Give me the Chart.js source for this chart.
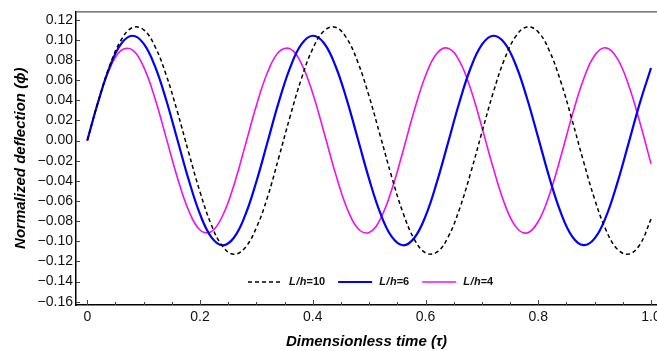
<!DOCTYPE html>
<html>
<head>
<meta charset="utf-8">
<title>Normalized deflection</title>
<script src="https://cdn.jsdelivr.net/npm/chart.js@4.4.0/dist/chart.umd.min.js"></script>
<style>
  html, body { margin: 0; padding: 0; background: #fff; overflow: hidden; }
  #wrap { width: 700px; height: 351px; }
</style>
</head>
<body>
<div id="wrap"><canvas id="myChart" width="700" height="351"></canvas></div>
<script>
// ----------- Data ------------ //

let tau = [0, 0.02, 0.04, 0.06, 0.08, 0.10, 0.12, 0.14, 0.16, 0.18,
  0.20, 0.22, 0.24, 0.26, 0.28, 0.30, 0.32, 0.34, 0.36, 0.38,
  0.40, 0.42, 0.44, 0.46, 0.48, 0.50, 0.52, 0.54, 0.56, 0.58,
  0.60, 0.62, 0.64, 0.66, 0.68, 0.70, 0.72, 0.74, 0.76, 0.78,
  0.80, 0.82, 0.84, 0.86, 0.88, 0.90, 0.92, 0.94, 0.96, 0.98, 1.00];

// L/h = 10
let phiLh10 = [0, 0.0399, 0.0747, 0.0998, 0.1121, 0.1099, 0.0935, 0.0650, 0.0283, -0.0122,
  -0.0511, -0.0836, -0.1051, -0.1130, -0.1064, -0.0865, -0.0557, -0.0163, 0.0243, 0.0617,
  0.0912, 0.1089, 0.1125, 0.1017, 0.0777, 0.0437, 0.0041, -0.0360, -0.0717, -0.0979,
  -0.1115, -0.1109, -0.0959, -0.0684, -0.0322, 0.0081, 0.0474, 0.0806, 0.1034, 0.1128,
  0.1077, 0.0887, 0.0583, 0.0203, -0.0203, -0.0583, -0.0887, -0.1077, -0.1128, -0.1035, -0.0780];

// L/h = 6
let phiLh6 = [0, 0.0397, 0.0734, 0.0960, 0.1040, 0.0962, 0.0738, 0.0402, 0.0005, -0.0392,
  -0.0731, -0.0959, -0.1040, -0.0965, -0.0744, -0.0407, -0.0010, 0.0388, 0.0727, 0.0956,
  0.1040, 0.0966, 0.0745, 0.0411, 0.0015, -0.0383, -0.0724, -0.0955, -0.1040, -0.0968,
  -0.0751, -0.0416, -0.0021, 0.0378, 0.0720, 0.0952, 0.1040, 0.0970, 0.0752, 0.0420,
  0.0026, -0.0374, -0.0716, -0.0951, -0.1039, -0.0972, -0.0758, -0.0426, -0.0031, 0.0369, 0.0720];

// L/h = 4
let phiLh4 = [0, 0.0396, 0.0715, 0.0894, 0.0900, 0.0731, 0.0420, 0.0026, -0.0371, -0.0697,
  -0.0888, -0.0905, -0.0747, -0.0443, -0.0053, 0.0347, 0.0680, 0.0881, 0.0910, 0.0762,
  0.0467, 0.0079, -0.0322, -0.0662, -0.0873, -0.0913, -0.0777, -0.0489, -0.0106, 0.0298,
  0.0643, 0.0864, 0.0916, 0.0790, 0.0511, 0.0132, -0.0271, -0.0624, -0.0855, -0.0918,
  -0.0804, -0.0533, -0.0159, 0.0247, 0.0604, 0.0844, 0.0920, 0.0816, 0.0554, 0.0184, -0.0230];

let seriesNames = ["10", "6", "4"];   // value of L/h for each curve

let xTicks = [0, 0.2, 0.4, 0.6, 0.8, 1.0];
let xMinorTicks = [0.05, 0.1, 0.15, 0.25, 0.3, 0.35, 0.45, 0.5, 0.55, 0.65, 0.7, 0.75, 0.85, 0.9, 0.95];
let yTicks = [-0.16, -0.14, -0.12, -0.10, -0.08, -0.06, -0.04, -0.02, 0, 0.02, 0.04, 0.06, 0.08, 0.10, 0.12];

// ------------- X ------------------ X ------------------

function toPoints(ys) {
  return tau.map((t, i) => ({ x: t, y: ys[i] }));
}

function fmtY(v) {
  let s = Math.abs(v).toFixed(2);
  return v < -1e-9 ? "\u2212" + s : s;
}

// inward tick marks + the thin frame line on top
let frameTicks = {
  id: "frameTicks",
  afterDraw(chart) {
    let ctx = chart.ctx;
    let area = chart.chartArea;
    let xs = chart.scales.x;
    let ys = chart.scales.y;
    ctx.save();
    ctx.strokeStyle = "#555";
    ctx.lineWidth = 1.2;
    ctx.beginPath();
    ctx.moveTo(area.left, area.top + 0.5);
    ctx.lineTo(area.right, area.top + 0.5);
    ctx.stroke();

    ctx.strokeStyle = "#444";
    ctx.lineWidth = 1;
    ctx.beginPath();
    for (let v of xTicks) {
      let px = Math.round(xs.getPixelForValue(v)) + 0.5;
      ctx.moveTo(px, area.bottom);
      ctx.lineTo(px, area.bottom - 5);
    }
    for (let v of xMinorTicks) {
      let px = Math.round(xs.getPixelForValue(v)) + 0.5;
      ctx.moveTo(px, area.bottom);
      ctx.lineTo(px, area.bottom - 3);
    }
    for (let v of yTicks) {
      let py = Math.round(ys.getPixelForValue(v)) + 0.5;
      ctx.moveTo(area.left, py);
      ctx.lineTo(area.left + 4, py);
    }
    ctx.stroke();
    ctx.restore();
  }
};

// legend inside the plot, "L/h" set in italics
let innerLegend = {
  id: "innerLegend",
  afterDraw(chart) {
    let ctx = chart.ctx;
    let area = chart.chartArea;
    let x = area.left + 172;
    let y = area.bottom - 23;
    ctx.save();
    ctx.textBaseline = "middle";
    ctx.fillStyle = "#111";
    chart.data.datasets.forEach((ds, i) => {
      ctx.strokeStyle = ds.borderColor;
      ctx.lineWidth = ds.borderWidth;
      ctx.setLineDash(ds.borderDash || []);
      ctx.beginPath();
      ctx.moveTo(x, y);
      ctx.lineTo(x + 34, y);
      ctx.stroke();
      ctx.setLineDash([]);
      x += 41;
      ctx.font = "italic bold 11px 'Liberation Sans', Arial, sans-serif";
      ctx.fillText("L", x, y);
      x += ctx.measureText("L").width + 0.5;
      ctx.fillText("/", x, y);
      x += ctx.measureText("/").width + 0.5;
      ctx.fillText("h", x, y);
      x += ctx.measureText("h").width;
      ctx.font = "bold 11px 'Liberation Sans', Arial, sans-serif";
      let rest = "=" + seriesNames[i];
      ctx.fillText(rest, x, y);
      x += ctx.measureText(rest).width + 13;
    });
    ctx.restore();
  }
};

// ----------- Chart ------------ //

function show_chart() {
  new Chart("myChart", {
    type: "line",
    data: {
      datasets: [
        {
          label: "L/h=10",
          data: toPoints(phiLh10),
          borderColor: "#000000",
          borderWidth: 1.5,
          borderDash: [4, 3],
          pointRadius: 0,
          tension: 0.4,
          fill: false
        },
        {
          label: "L/h=6",
          data: toPoints(phiLh6),
          borderColor: "#0000ff",
          borderWidth: 2.2,
          pointRadius: 0,
          tension: 0.4,
          fill: false
        },
        {
          label: "L/h=4",
          data: toPoints(phiLh4),
          borderColor: "#ee11ee",
          borderWidth: 1.6,
          pointRadius: 0,
          tension: 0.4,
          fill: false
        }
      ]
    },
    options: {
      responsive: false,
      animation: false,
      layout: { padding: { top: 11, right: 43, left: 0, bottom: 0 } },
      plugins: {
        legend: { display: false },
        tooltip: { enabled: false }
      },
      scales: {
        x: {
          type: "linear",
          min: -0.020,
          max: 1.0106,
          afterFit: (s) => { s.height = 46; },
          afterBuildTicks: (s) => { s.ticks = xTicks.map(v => ({ value: v })); },
          grid: { display: false, drawTicks: false },
          border: { display: true, color: "#000", width: 1.5 },
          ticks: {
            padding: 4,
            color: "#111",
            font: { family: "'Liberation Sans', Arial, sans-serif", size: 14 },
            maxRotation: 0,
            callback: (v) => (v === 0 ? "0" : v.toFixed(1))
          },
          title: {
            display: true,
            text: "Dimensionless time (\u03c4)",
            color: "#000",
            font: { family: "'Liberation Sans', Arial, sans-serif", size: 15, style: "italic", weight: "bold" },
            padding: { top: 0, bottom: 0 }
          }
        },
        y: {
          type: "linear",
          min: -0.1633,
          max: 0.1282,
          afterFit: (s) => { s.width = 76; },
          afterBuildTicks: (s) => { s.ticks = yTicks.map(v => ({ value: v })); },
          grid: { display: false, drawTicks: false },
          border: { display: true, color: "#000", width: 1.5 },
          ticks: {
            padding: 3,
            color: "#111",
            font: { family: "'Liberation Sans', Arial, sans-serif", size: 14 },
            callback: (v) => fmtY(v)
          },
          title: {
            display: true,
            text: "Normalized deflection (\u03d5)",
            color: "#000",
            font: { family: "'Liberation Sans', Arial, sans-serif", size: 15, style: "italic", weight: "bold" },
            padding: { top: 12, bottom: 0 }
          }
        }
      }
    },
    plugins: [frameTicks, innerLegend]
  });
}

show_chart();
</script>
</body>
</html>
